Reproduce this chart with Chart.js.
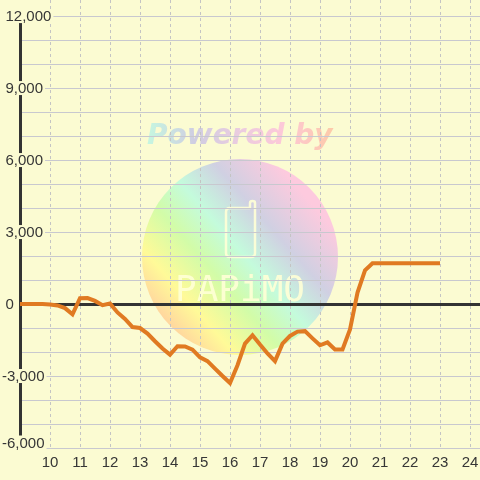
<!DOCTYPE html>
<html>
<head>
<meta charset="utf-8">
<script src="https://cdn.jsdelivr.net/npm/chart.js@4.4.1/dist/chart.umd.min.js"></script>
<style>
  html, body { margin: 0; padding: 0; background: #fbfbd2; }
  #wrap { width: 480px; height: 480px; }
</style>
</head>
<body>
<div id="wrap"><canvas id="chart" width="480" height="480"></canvas></div>
<script>
// ===== DATA =====
const times = [
  9, 9.25, 9.5, 9.75, 10, 10.25, 10.5, 10.75, 11, 11.25, 11.5, 11.75,
  12, 12.25, 12.5, 12.75, 13, 13.25, 13.5, 13.75, 14, 14.25, 14.5, 14.75,
  15, 15.25, 15.5, 15.75, 16, 16.25, 16.5, 16.75, 17, 17.25, 17.5, 17.75,
  18, 18.25, 18.5, 18.75, 19, 19.25, 19.5, 19.75, 20, 20.25, 20.5, 20.75,
  21, 21.25, 21.5, 21.75, 22, 22.25, 22.5, 22.75, 23
];
const values = [
  0, 0, 0, 0, -20, -60, -170, -430, 240, 250, 130, -50,
  20, -350, -620, -960, -1000, -1230, -1550, -1850, -2110, -1760, -1770, -1900,
  -2220, -2380, -2690, -3000, -3290, -2550, -1650, -1300, -1690, -2060, -2380, -1650,
  -1330, -1150, -1130, -1430, -1720, -1600, -1890, -1890, -1060, 480, 1400, 1700,
  1700, 1700, 1700, 1700, 1700, 1700, 1700, 1700, 1700
];
const xTicks = [10, 11, 12, 13, 14, 15, 16, 17, 18, 19, 20, 21, 22, 23, 24];
const yGridTicks = [-6000, -5000, -4000, -3000, -2000, -1000, 0, 1000, 2000, 3000,
  4000, 5000, 6000, 7000, 8000, 9000, 10000, 11000, 12000];
const yTickLabels = [12000, 9000, 6000, 3000, 0, -3000, -6000];

const BG = '#fbfbd2';
const INK = '#363636';

// ===== WATERMARK =====
function drawWatermark(ctx) {
  const cx = 240, cy = 257, r = 98;
  ctx.save();
  const g = ctx.createLinearGradient(cx - 80, cy + 70, cx + 80, cy - 70);
  g.addColorStop(0.0, '#ffcca0');
  g.addColorStop(0.18, '#fffa98');
  g.addColorStop(0.36, '#d2fca8');
  g.addColorStop(0.52, '#c4fbdc');
  g.addColorStop(0.7, '#d0d0e2');
  g.addColorStop(0.92, '#fdcade');
  ctx.beginPath();
  ctx.arc(cx, cy, r, 0, Math.PI * 2);
  ctx.fillStyle = g;
  ctx.fill();

  // phone outline
  ctx.strokeStyle = 'rgba(255,255,214,0.9)';
  ctx.lineWidth = 2.5;
  ctx.lineJoin = 'round';
  ctx.beginPath();
  ctx.moveTo(250, 208);
  ctx.lineTo(230, 208);
  ctx.quadraticCurveTo(226, 208, 226, 212);
  ctx.lineTo(226, 253);
  ctx.quadraticCurveTo(226, 257, 230, 257);
  ctx.lineTo(251, 257);
  ctx.quadraticCurveTo(255, 257, 255, 253);
  ctx.lineTo(255, 203);
  ctx.quadraticCurveTo(255, 201, 252.5, 201);
  ctx.quadraticCurveTo(250, 201, 250, 203);
  ctx.lineTo(250, 208);
  ctx.stroke();

  // logo text
  ctx.fillStyle = 'rgba(255,255,214,0.9)';
  ctx.font = '36px "DejaVu Sans Mono"';
  ctx.textBaseline = 'alphabetic';
  ctx.fillText('PAPiMO', 175, 301);

  // "Powered by"
  ctx.font = 'italic bold 28px "DejaVu Sans"';
  const tg = ctx.createLinearGradient(148, 0, 336, 0);
  tg.addColorStop(0, '#c6f6e0');
  tg.addColorStop(0.25, '#cfcde2');
  tg.addColorStop(0.5, '#ecccdf');
  tg.addColorStop(0.72, '#fdc8d8');
  tg.addColorStop(1, '#fdcaa6');
  ctx.fillStyle = tg;
  ctx.fillText('Powered by', 147, 144);
  ctx.restore();
}

// ===== PLUGINS =====
const backdropPlugin = {
  id: 'backdrop',
  beforeDraw(chart) {
    const ctx = chart.ctx;
    ctx.save();
    ctx.fillStyle = BG;
    ctx.fillRect(0, 0, chart.width, chart.height);
    ctx.restore();
    drawWatermark(ctx);
  }
};

const yAxisPlugin = {
  id: 'yAxisLabels',
  beforeDatasetsDraw(chart) {
    const ctx = chart.ctx;
    const y = chart.scales.y;
    const area = chart.chartArea;
    const axisX = area.left + 0.5;
    ctx.save();
    ctx.strokeStyle = '#333';
    ctx.lineWidth = 3;
    ctx.beginPath();
    ctx.moveTo(axisX, y.getPixelForValue(12000));
    ctx.lineTo(axisX, y.getPixelForValue(-6000));
    ctx.stroke();

    ctx.font = '15px "Liberation Sans", Arial, sans-serif';
    ctx.textBaseline = 'middle';
    ctx.textAlign = 'left';
    yTickLabels.forEach(function(v) {
      const text = v.toLocaleString('en-US');
      let py = y.getPixelForValue(v);
      py = Math.min(py, area.bottom - 5.5);
      const px = v < 0 ? 2 : 5.5;
      const w = ctx.measureText(text).width;
      ctx.fillStyle = BG;
      ctx.fillRect(0, py - 7, px + w + 2, 14);
      ctx.fillStyle = INK;
      ctx.fillText(text, px, py + 1);
    });
    ctx.restore();
  }
};

// ===== CHART =====
new Chart(document.getElementById('chart'), {
  type: 'line',
  data: {
    datasets: [{
      data: times.map(function(t, i) { return { x: t, y: values[i] }; }),
      borderColor: '#e07a22',
      borderWidth: 4,
      pointRadius: 0,
      tension: 0,
      fill: false
    }]
  },
  options: {
    responsive: false,
    animation: false,
    events: [],
    layout: { padding: { left: 20, right: 0, top: 0, bottom: 2 } },
    plugins: { legend: { display: false }, tooltip: { enabled: false } },
    scales: {
      x: {
        type: 'linear',
        min: 9,
        max: 24.333,
        afterBuildTicks: function(scale) {
          scale.ticks = xTicks.map(function(v) { return { value: v }; });
        },
        afterFit: function(scale) {
          scale.paddingLeft = 0;
          scale.paddingRight = 0;
        },
        grid: { color: '#c4c4c4', lineWidth: 1, drawTicks: false },
        border: { display: false, dash: [3, 3] },
        ticks: {
          color: INK,
          padding: 6,
          maxRotation: 0,
          autoSkip: false,
          font: { family: '"Liberation Sans", Arial, sans-serif', size: 15 }
        }
      },
      y: {
        type: 'linear',
        min: -6000,
        max: 12670,
        afterBuildTicks: function(scale) {
          scale.ticks = yGridTicks.map(function(v) { return { value: v }; });
        },
        grid: {
          drawTicks: false,
          color: function(c) { return c.tick && c.tick.value === 0 ? '#333' : '#c8c8cf'; },
          lineWidth: function(c) { return c.tick && c.tick.value === 0 ? 3 : 1; }
        },
        border: { display: false },
        ticks: { display: false }
      }
    }
  },
  plugins: [backdropPlugin, yAxisPlugin]
});
</script>
</body>
</html>
